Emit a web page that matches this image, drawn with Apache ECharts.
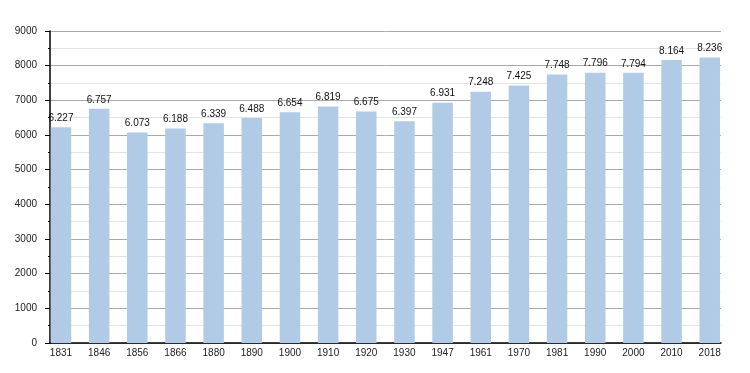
<!DOCTYPE html>
<html>
<head>
<meta charset="utf-8">
<script src="https://cdn.jsdelivr.net/npm/echarts@6/dist/echarts.min.js"></script>
<style>html,body{margin:0;padding:0;background:#fff}#c{width:750px;height:373px}</style>
</head>
<body>
<div id="c"></div>
<script>
const years = ['1831','1846','1856','1866','1880','1890','1900','1910','1920','1930','1947','1961','1970','1981','1990','2000','2010','2018'];
const population = [6227,6757,6073,6188,6339,6488,6654,6819,6675,6397,6931,7248,7425,7748,7796,7794,8164,8236];
const yMin = 0, yMax = 9000, yStep = 1000;

const font = 'Liberation Sans, Arial, sans-serif';
const chart = echarts.init(document.getElementById('c'), null, {renderer:'canvas'});
chart.setOption({
  animation: false,
  backgroundColor: '#fff',
  textStyle: {fontFamily: font},
  grid: [
    {left: 50, right: 29, top: 31, bottom: 30},
    {left: 41.9, right: 21.2, top: 31, bottom: 30}
  ],
  xAxis: [
    {gridIndex: 0, type: 'category', data: years, boundaryGap: true,
     axisLine: {show: true, lineStyle: {color: '#000', width: 1.5}},
     axisTick: {show: false}, axisLabel: {show: false}, splitLine: {show: false}},
    {gridIndex: 1, type: 'category', data: years, boundaryGap: true,
     axisLine: {show: false}, axisTick: {show: false},
     axisLabel: {color: '#222', fontSize: 10, fontFamily: font, margin: 5, interval: 0}}
  ],
  yAxis: [
    {gridIndex: 0, type: 'value', min: yMin, max: yMax, interval: yStep,
     axisLine: {show: true, lineStyle: {color: '#000', width: 1.5}},
     axisTick: {show: true, length: 5, lineStyle: {color: '#000'}},
     minorTick: {show: true, splitNumber: 2, length: 2, lineStyle: {color: '#000'}},
     axisLabel: {color: '#222', fontSize: 10, fontFamily: font, margin: 13, formatter: v => String(v)},
     splitLine: {show: true, lineStyle: {color: '#aaa', width: 1}},
     minorSplitLine: {show: true, lineStyle: {color: '#e3e3e3', width: 1}}},
    {gridIndex: 1, type: 'value', min: yMin, max: yMax, interval: yStep, show: false,
     splitLine: {show: false}}
  ],
  series: [{
    type: 'bar', xAxisIndex: 1, yAxisIndex: 1, data: population,
    barWidth: 20.5,
    itemStyle: {color: '#b1cae5'},
    label: {show: true, position: 'top', distance: 4, color: '#111', fontSize: 10, fontFamily: font,
      formatter: p => String(p.value).replace(/\B(?=(\d{3})+(?!\d))/g, '.')}
  }]
});
</script>
</body>
</html>
